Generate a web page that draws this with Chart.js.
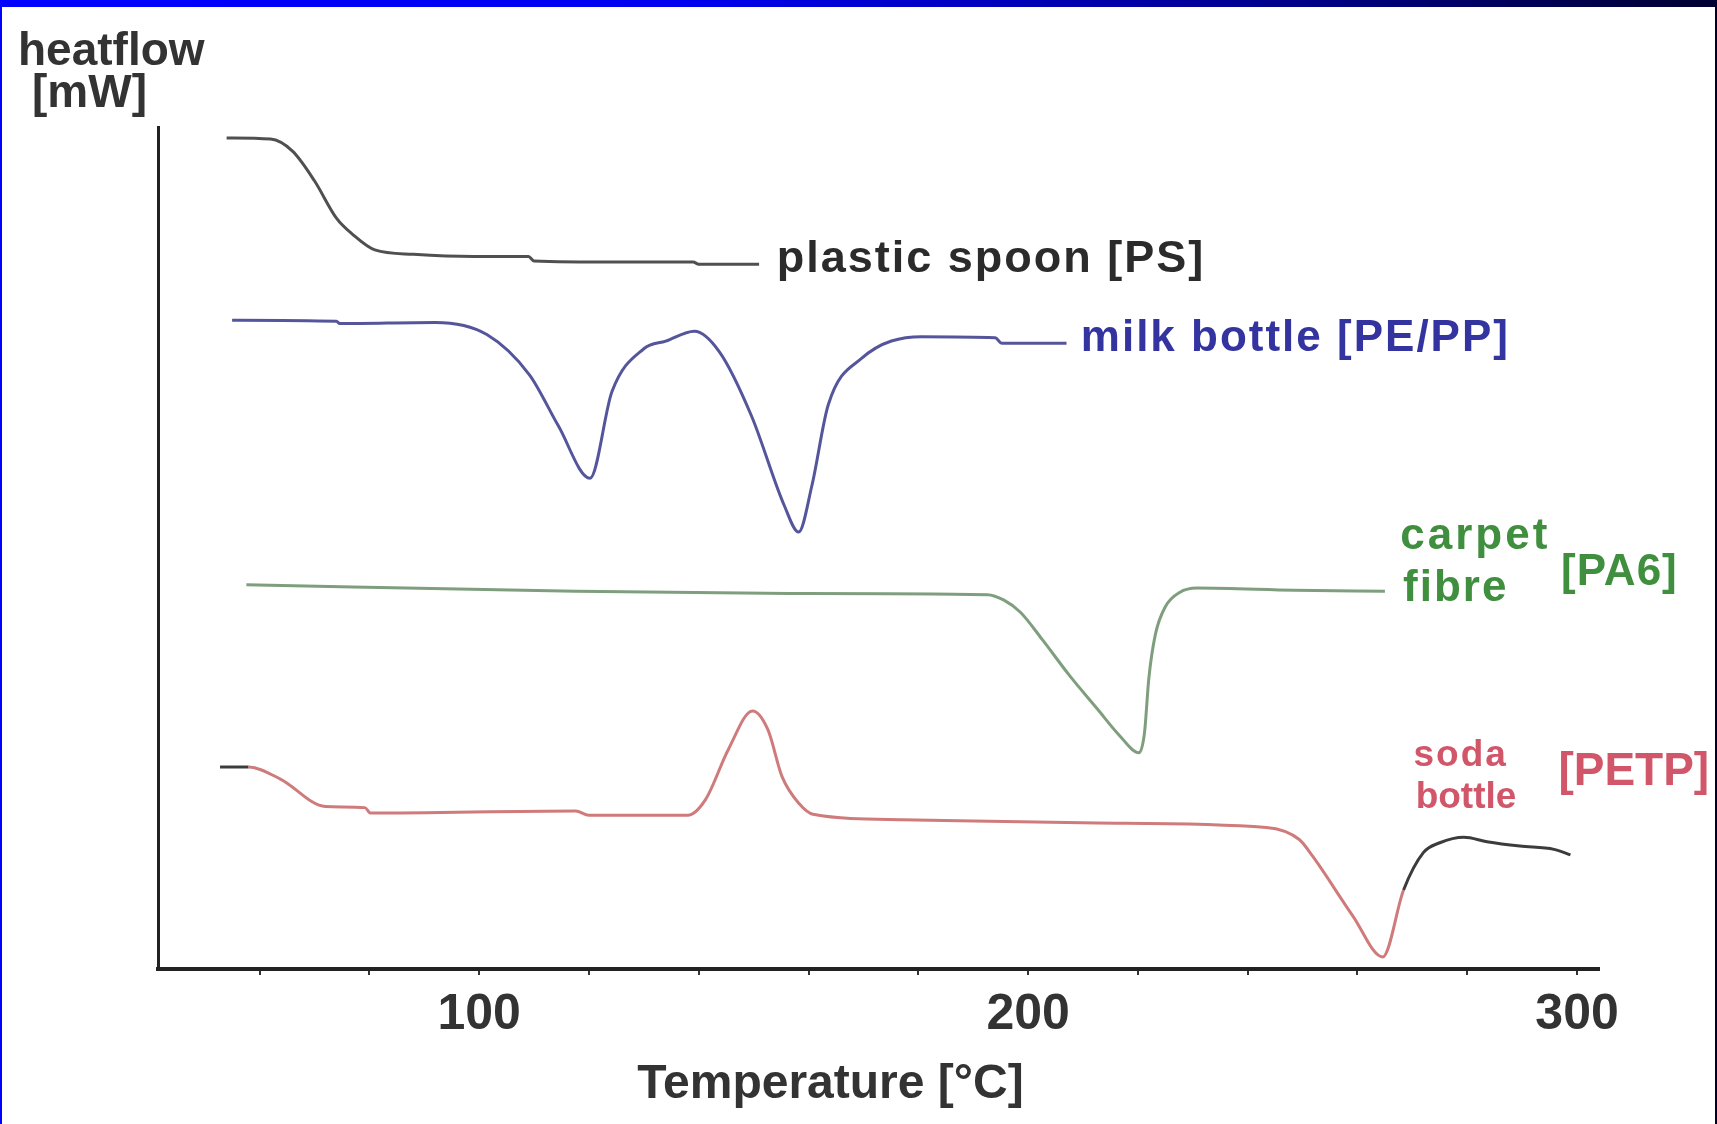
<!DOCTYPE html>
<html>
<head>
<meta charset="utf-8">
<script src="https://cdn.jsdelivr.net/npm/chart.js@4.4.1/dist/chart.umd.min.js"></script>
<style>
  html, body { margin: 0; padding: 0; background: #fff; }
  #wrap { position: relative; width: 1717px; height: 1124px; overflow: hidden; background: #fff; }
  #topbar { position: absolute; left: 0; top: 0; width: 1717px; height: 7px;
    background: linear-gradient(to right, #0000ff 0%, #0000f0 40%, #000088 76%, #000030 100%); }
  #leftbar { position: absolute; left: 0; top: 0; width: 2px; height: 1124px; background: #0000ff; }
  #rightbar { position: absolute; right: 0; top: 0; width: 2px; height: 1124px; background: #00002a; }
  canvas { position: absolute; left: 0; top: 0; }
</style>
</head>
<body>
<div id="wrap">
  <canvas id="dsc" width="1717" height="1124"></canvas>
  <div id="topbar"></div>
  <div id="leftbar"></div>
  <div id="rightbar"></div>
</div>
<script>
// temperature [°C] and heatflow (arbitrary units)
const spoonT  = [54, 62, 66, 70, 74, 77, 81, 88, 99, 109, 110, 125, 139, 140, 151];
const spoonHF = [757, 756, 745, 718, 684, 669, 655, 651, 649, 649, 645, 644, 644, 642, 642];

const milkT  = [55, 74, 74.6, 92, 101.4, 109.2, 114.4, 120.2, 124.2, 130, 134, 139.2, 143.8, 149.6, 155.6, 158.2, 160.6, 163.6, 169.6, 180.6, 194, 195.2, 207];
const milkHF = [591, 590, 588, 589, 578, 541, 495, 447, 526, 565, 572, 581, 562, 504, 422, 398, 440, 514, 556, 576, 575, 570, 570];

const carpetT  = [57.6, 77, 117.6, 156.6, 192.6, 195.6, 198.6, 202.6, 207.6, 212.6, 216.6, 220.2, 221.2, 222, 223.2, 225, 227.6, 230.8, 248.6, 265];
const carpetHF = [350, 348, 344, 342, 341, 336, 325, 300, 267, 237, 213, 197, 215, 265, 305, 330, 343, 347, 345, 344];

const sodaT  = [52.8, 58, 63.8, 72, 79.2, 80.2, 117.6, 120, 138, 141.2, 145.4, 149.8, 152.6, 155.2, 158.4, 160.8, 177, 212.6, 243.4, 249.4, 251.8, 259.2, 264.6, 268.4, 272, 275, 279.4, 283.6, 289.6, 295.8, 298.8];
const sodaHF = [184, 184, 173, 148, 147, 142, 144, 140, 140, 154, 200, 235, 218, 175, 150, 141, 136, 133, 129, 118, 103, 48, 11, 72, 106, 115, 120, 116, 112, 109, 104];

const xTickLabels = [100, 200, 300];

function pts(xs, ys) {
  return xs.map((x, i) => ({ x: x, y: ys[i] }));
}

// curve labels, anchored in data units (T, heatflow)
const notes = [
  { text: 'plastic spoon [PS]', t: 154.2, v: 635, color: '#2b2b2b', size: 45, sp: 2 },
  { text: 'milk bottle [PE/PP]', t: 209.6, v: 563, color: '#3434a0', size: 44, sp: 2 },
  { text: 'carpet', t: 267.8, v: 383, color: '#3f8f3f', size: 44, sp: 3 },
  { text: 'fibre', t: 268.3, v: 335, color: '#3f8f3f', size: 44, sp: 2 },
  { text: '[PA6]', t: 297.1, v: 350, color: '#3f8f3f', size: 44, sp: 1 },
  { text: 'soda', t: 270.2, v: 185, color: '#d2566a', size: 37, sp: 2 },
  { text: 'bottle', t: 270.6, v: 147, color: '#d2566a', size: 37, sp: 0 },
  { text: '[PETP]', t: 296.6, v: 168, color: '#d2566a', size: 46, sp: 0 }
];

const sans = "'Liberation Sans', Arial, sans-serif";

const textPlugin = {
  id: 'texts',
  afterDraw(chart) {
    const ctx = chart.ctx;
    const xs = chart.scales.x, ys = chart.scales.y;
    ctx.save();
    ctx.textAlign = 'left';
    ctx.textBaseline = 'alphabetic';
    notes.forEach(n => {
      ctx.fillStyle = n.color;
      ctx.font = 'bold ' + n.size + 'px ' + sans;
      ctx.letterSpacing = n.sp + 'px';
      ctx.fillText(n.text, xs.getPixelForValue(n.t), ys.getPixelForValue(n.v));
    });
    ctx.letterSpacing = '0px';
    // y axis name, top left
    ctx.fillStyle = '#333';
    ctx.font = 'bold 46px ' + sans;
    ctx.fillText('heatflow', 18, 65);
    ctx.fillText('[mW]', 32, 107);
    // x axis name
    ctx.textAlign = 'center';
    ctx.font = 'bold 48px ' + sans;
    ctx.fillText('Temperature [°C]', xs.getPixelForValue(164), 1098);
    ctx.restore();
  }
};

const segColor = c => (c.p0.parsed.x >= 268 || c.p1.parsed.x <= 58) ? '#3c3c3c' : '#cf7b7b';

const common = { pointRadius: 0, borderWidth: 3, cubicInterpolationMode: 'monotone', fill: false };

new Chart(document.getElementById('dsc'), {
  type: 'line',
  data: {
    datasets: [
      Object.assign({ label: 'plastic spoon [PS]', data: pts(spoonT, spoonHF), borderColor: '#505050' }, common),
      Object.assign({ label: 'milk bottle [PE/PP]', data: pts(milkT, milkHF), borderColor: '#55559c' }, common),
      Object.assign({ label: 'carpet fibre [PA6]', data: pts(carpetT, carpetHF), borderColor: '#7e9e7e' }, common),
      Object.assign({ label: 'soda bottle [PETP]', data: pts(sodaT, sodaHF), borderColor: '#cf7b7b',
        segment: { borderColor: segColor } }, common)
    ]
  },
  options: {
    responsive: false,
    animation: false,
    layout: { padding: { left: 0, top: 127, right: 118, bottom: 0 } },
    plugins: { legend: { display: false }, tooltip: { enabled: false } },
    scales: {
      x: {
        type: 'linear',
        min: 41.5,
        max: 304,
        afterFit: s => { s.height = 155; },
        border: { display: true, color: '#222', width: 4 },
        grid: { display: true, drawOnChartArea: false, drawTicks: true, tickLength: 6, color: '#333', lineWidth: 2 },
        ticks: {
          stepSize: 20,
          includeBounds: false,
          autoSkip: false,
          maxRotation: 0,
          padding: 10,
          color: '#333',
          font: { family: sans, size: 50, weight: 'bold' },
          callback: v => xTickLabels.includes(v) ? String(v) : ''
        }
      },
      y: {
        min: 0,
        max: 767,
        afterFit: s => { s.width = 158; },
        border: { display: true, color: '#222', width: 3 },
        grid: { display: false },
        ticks: { display: false }
      }
    }
  },
  plugins: [textPlugin]
});
</script>
</body>
</html>
